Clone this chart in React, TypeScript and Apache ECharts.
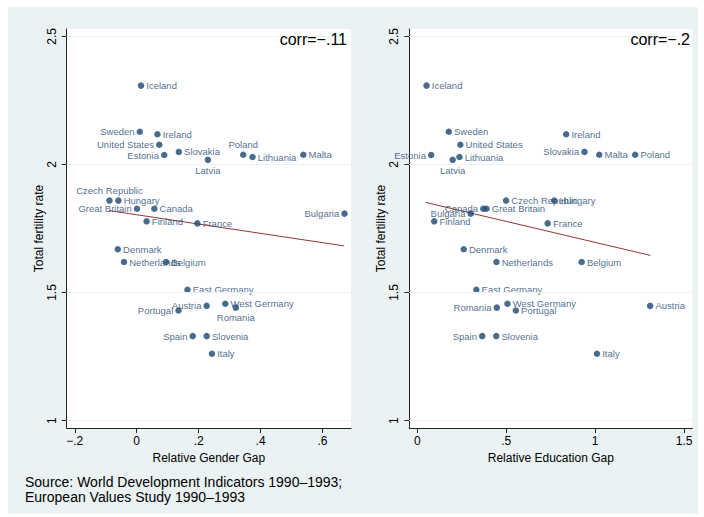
import React, { useEffect, useRef } from "react";
import * as echarts from "echarts";

// Country-level observations (early 1990s)
const countries = [
  "Iceland", "Sweden", "Ireland", "United States", "Estonia", "Slovakia", "Latvia",
  "Poland", "Lithuania", "Malta", "Czech Republic", "Hungary", "Great Britain", "Canada",
  "Finland", "France", "Bulgaria", "Denmark", "Netherlands", "Belgium", "East Germany",
  "Austria", "West Germany", "Romania", "Portugal", "Spain", "Slovenia", "Italy",
];

const fertility = [
  2.308, 2.128, 2.118, 2.077, 2.037, 2.049, 2.018,
  2.038, 2.029, 2.038, 1.859, 1.859, 1.827, 1.827,
  1.778, 1.770, 1.808, 1.669, 1.619, 1.619, 1.511,
  1.448, 1.456, 1.441, 1.430, 1.330, 1.330, 1.261,
];

const genderGap = [
  0.014, 0.010, 0.067, 0.073, 0.089, 0.136, 0.230,
  0.344, 0.374, 0.538, -0.088, -0.059, 0.001, 0.057,
  0.032, 0.196, 0.671, -0.061, -0.041, 0.095, 0.164,
  0.226, 0.286, 0.320, 0.135, 0.181, 0.226, 0.243,
];

const educationGap = [
  0.052, 0.177, 0.837, 0.242, 0.078, 0.940, 0.199,
  1.225, 0.237, 1.023, 0.499, 0.770, 0.389, 0.371,
  0.095, 0.733, 0.300, 0.261, 0.445, 0.924, 0.332,
  1.309, 0.507, 0.447, 0.554, 0.365, 0.444, 1.010,
];

// Linear-fit endpoints [x, y]
const genderFit = [[-0.09, 1.82], [0.67, 1.682]];
const educationFit = [[0.046, 1.852], [1.31, 1.645]];

const correlations = ["corr=\u2212.11", "corr=\u2212.2"];
const xTitles = ["Relative Gender Gap", "Relative Education Gap"];
const yTitle = "Total fertility rate";
const yTicks = [1, 1.5, 2, 2.5];
const genderTicks = [-0.2, 0, 0.2, 0.4, 0.6];
const educationTicks = [0, 0.5, 1, 1.5];
const sourceLines = [
  "Source: World Development Indicators 1990\u20131993;",
  "European Values Study 1990\u20131993",
];

// Marker label placement per panel
const leftPos: Record<string, string> = {
  Sweden: "left", "United States": "left", Estonia: "left", Latvia: "bottom",
  Poland: "top", "Czech Republic": "top", "Great Britain": "left", Bulgaria: "left",
  Austria: "left", Romania: "bottom", Portugal: "left", Spain: "left",
};
const rightPos: Record<string, string> = {
  Estonia: "left", Slovakia: "left", Latvia: "bottom", Canada: "left",
  Bulgaria: "left", Romania: "left", Spain: "left",
};

const FONT = "'Liberation Sans', Arial, Helvetica, sans-serif";
const NAVY = "#1a476f";
const MAROON = "#90353b";
const PANEL_BG = "#eaf2f3";

function stataNum(v: number): string {
  if (v === 0) return "0";
  const s = String(Math.abs(v)).replace(/^0\./, ".");
  return (v < 0 ? "\u2212" : "") + s;
}

export default function App() {
  const ref = useRef<HTMLDivElement>(null);

  useEffect(() => {
    if (!ref.current) return;
    const chart = echarts.init(ref.current, null, { renderer: "svg" });

    const grids = [
      { left: 66.7, top: 29, width: 284.3, height: 399 },
      { left: 409.3, top: 29, width: 283, height: 399 },
    ];

    const xRanges = [
      { min: -0.226, max: 0.692, ticks: genderTicks },
      { min: -0.045, max: 1.546, ticks: educationTicks },
    ];

    const xAxes = xRanges.map((r, i) => ({
      type: "value",
      gridIndex: i,
      min: r.min,
      max: r.max,
      position: "bottom",
      name: xTitles[i],
      nameLocation: "middle",
      nameGap: 18.5,
      nameTextStyle: { fontSize: 12, color: "#000", fontFamily: FONT },
      axisLine: { show: true, onZero: false, lineStyle: { color: "#222", width: 1 } },
      axisTick: { show: true, length: 5, inside: false, customValues: r.ticks, lineStyle: { color: "#222" } },
      axisLabel: {
        show: true,
        customValues: r.ticks,
        margin: 7,
        fontSize: 12,
        color: "#000",
        fontFamily: FONT,
        formatter: (v: number) => stataNum(v),
      },
      splitLine: { show: false },
    }));

    const yAxes = [0, 1].map((i) => ({
      type: "value",
      gridIndex: i,
      min: 0.971,
      max: 2.529,
      position: "left",
      name: yTitle,
      nameLocation: "middle",
      nameRotate: 90,
      nameGap: 21,
      nameTextStyle: { fontSize: 12, color: "#000", fontFamily: FONT },
      axisLine: { show: true, onZero: false, lineStyle: { color: "#222", width: 1 } },
      axisTick: { show: true, length: 5, inside: false, customValues: yTicks, lineStyle: { color: "#222" } },
      axisLabel: {
        show: true,
        customValues: yTicks,
        rotate: 90,
        margin: 9,
        fontSize: 12,
        color: "#000",
        fontFamily: FONT,
        formatter: (v: number) => stataNum(v),
      },
      splitLine: { show: false },
    }));

    const scatterData = (xs: number[], pos: Record<string, string>) =>
      countries.map((name, k) => ({
        name,
        value: [xs[k], fertility[k]],
        label: { position: pos[name] || "right" },
      }));

    const panels = [
      { xs: genderGap, pos: leftPos, fit: genderFit },
      { xs: educationGap, pos: rightPos, fit: educationFit },
    ];

    const series: any[] = [];
    panels.forEach((p, i) => {
      // horizontal reference lines at each y tick
      series.push({
        type: "line",
        xAxisIndex: i,
        yAxisIndex: i,
        data: [],
        silent: true,
        z: 1,
        markLine: {
          silent: true,
          symbol: "none",
          label: { show: false },
          lineStyle: { color: PANEL_BG, width: 1, type: "solid" },
          data: yTicks.map((t) => ({ yAxis: t })),
        },
      });
      series.push({
        type: "line",
        xAxisIndex: i,
        yAxisIndex: i,
        data: p.fit,
        showSymbol: false,
        symbol: "none",
        silent: true,
        z: 2,
        lineStyle: { color: MAROON, width: 1 },
      });
      series.push({
        type: "scatter",
        xAxisIndex: i,
        yAxisIndex: i,
        symbol: "circle",
        symbolSize: 6.5,
        z: 3,
        itemStyle: { color: NAVY },
        label: {
          show: true,
          formatter: "{b}",
          fontSize: 9.5,
          color: NAVY,
          distance: 2,
          fontFamily: FONT,
        },
        data: scatterData(p.xs, p.pos),
      });
    });

    chart.setOption({
      animation: false,
      backgroundColor: "#ffffff",
      textStyle: { fontFamily: FONT },
      grid: grids.map((g) => ({
        ...g,
        show: true,
        backgroundColor: "#ffffff",
        borderWidth: 0,
        containLabel: false,
      })),
      xAxis: xAxes,
      yAxis: yAxes,
      series,
      graphic: [
        {
          type: "rect",
          z: -10,
          silent: true,
          shape: { x: 8, y: 7, width: 690, height: 507 },
          style: { fill: PANEL_BG },
        },
        {
          type: "text",
          z: 10,
          x: 347,
          y: 39,
          style: {
            text: correlations[0],
            align: "right",
            verticalAlign: "middle",
            fontSize: 16,
            fontFamily: FONT,
            fill: "#000",
          },
        },
        {
          type: "text",
          z: 10,
          x: 690,
          y: 39,
          style: {
            text: correlations[1],
            align: "right",
            verticalAlign: "middle",
            fontSize: 16,
            fontFamily: FONT,
            fill: "#000",
          },
        },
        ...sourceLines.map((line, k) => ({
          type: "text",
          z: 10,
          x: 25,
          y: 482 + k * 14.7,
          style: {
            text: line,
            align: "left",
            verticalAlign: "middle",
            fontSize: 14,
            fontFamily: FONT,
            fill: "#000",
          },
        })),
      ],
    });

    return () => chart.dispose();
  }, []);

  return (
    <div
      style={{ position: "absolute", left: 0, top: 0, width: 704, height: 517, background: "#fff" }}
    >
      <div ref={ref} style={{ width: 704, height: 517 }} />
    </div>
  );
}
